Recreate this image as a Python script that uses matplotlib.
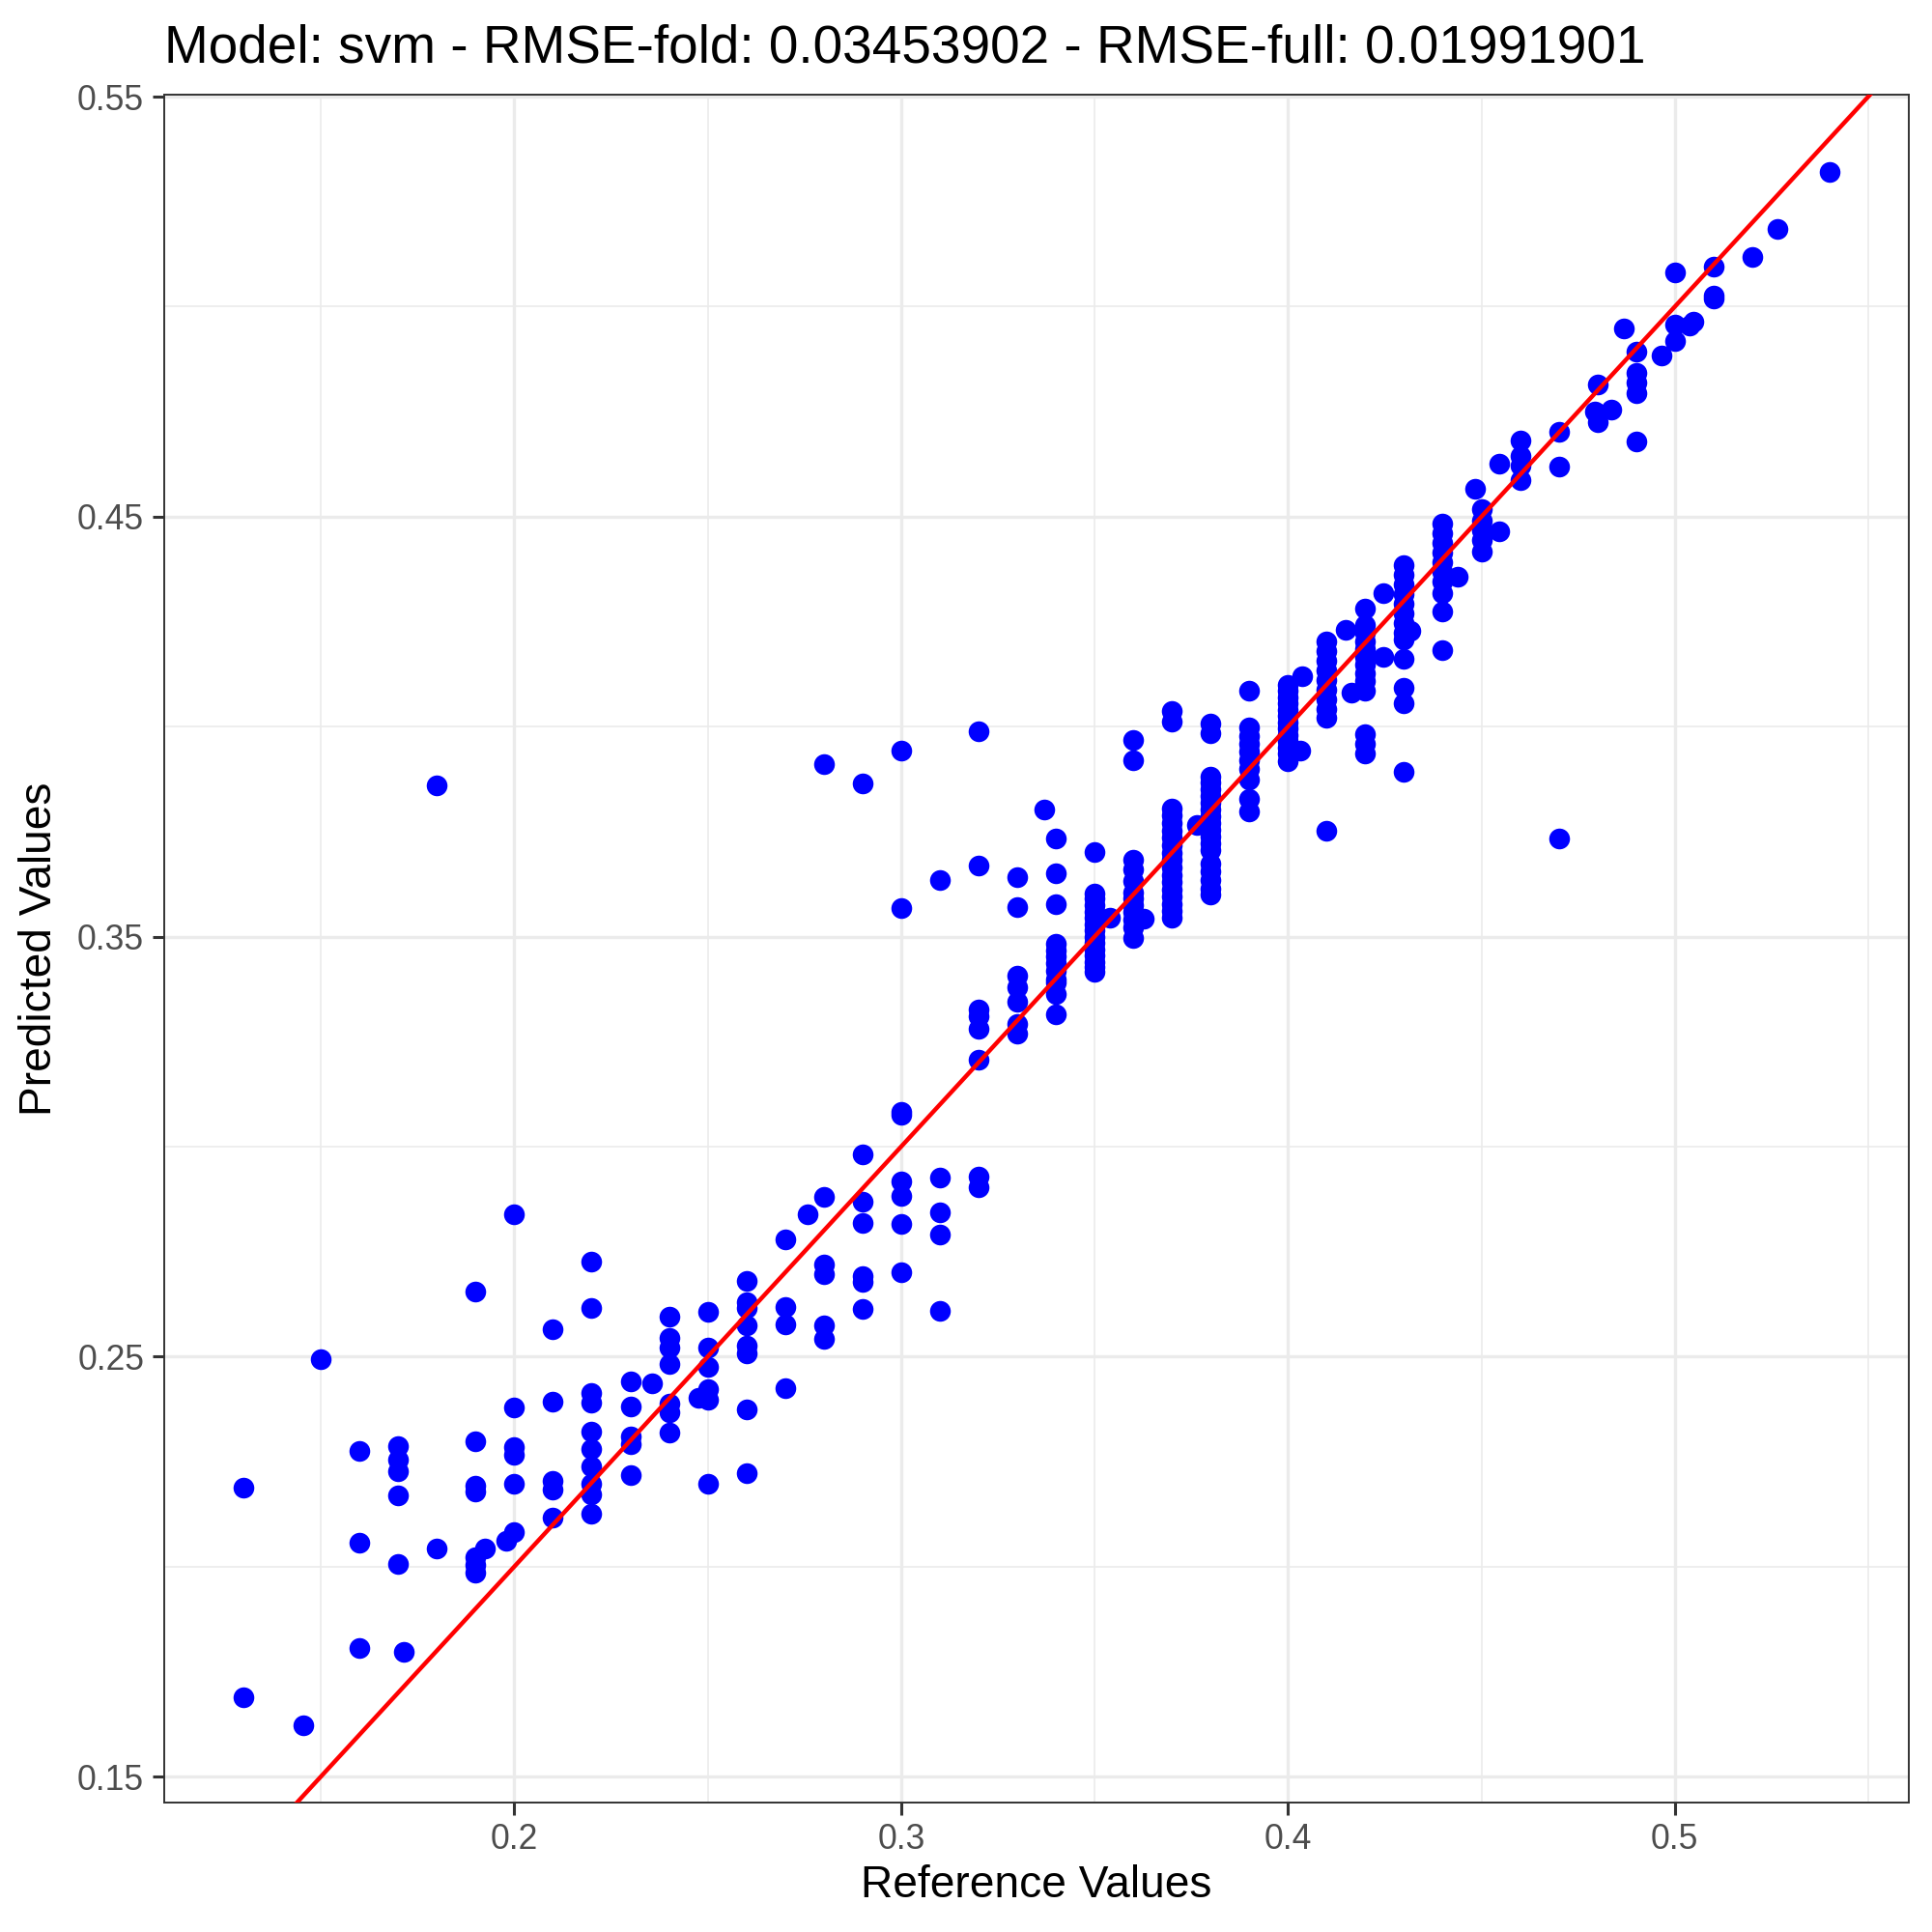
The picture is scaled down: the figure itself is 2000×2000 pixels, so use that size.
import matplotlib
matplotlib.use("Agg")
import matplotlib.pyplot as plt
import numpy as np

plt.rcParams['font.family'] = ['Liberation Sans', 'DejaVu Sans']

title = "Model: svm - RMSE-fold: 0.03453902 - RMSE-full: 0.01991901"

# reference value of each column of points, and the predicted values in that column
ref_groups = [0.13, 0.1454, 0.15, 0.16, 0.17, 0.1715, 0.18, 0.19, 0.1925, 0.1978,
              0.20, 0.21, 0.22, 0.23, 0.2355, 0.24, 0.2475, 0.25, 0.26, 0.27,
              0.2758, 0.28, 0.29, 0.30, 0.31, 0.32, 0.33, 0.337, 0.34, 0.35,
              0.354, 0.36, 0.3627, 0.37, 0.3765, 0.38, 0.39, 0.40, 0.4031, 0.4037,
              0.41, 0.4149, 0.4163, 0.42, 0.4247, 0.43, 0.4317, 0.44, 0.4438, 0.45,
              0.4483, 0.4545, 0.4547, 0.46, 0.47, 0.48, 0.4794, 0.4836, 0.4869, 0.49,
              0.4966, 0.50, 0.5037, 0.5047, 0.51, 0.52, 0.5266, 0.54]

pred_groups = [
    [0.2188, 0.1689],
    [0.1623],
    [0.2494],
    [0.2275, 0.2056, 0.1807],
    [0.2288, 0.2255, 0.2228, 0.2169, 0.2006],
    [0.1798],
    [0.2044, 0.3860],
    [0.2656, 0.2299, 0.2193, 0.2178, 0.2023, 0.2004, 0.1985],
    [0.2044],
    [0.2061],
    [0.2840, 0.2380, 0.2285, 0.2267, 0.2198, 0.2083],
    [0.2565, 0.2393, 0.2203, 0.2183, 0.2117],
    [0.2727, 0.2615, 0.2413, 0.2390, 0.2322, 0.2281, 0.2238, 0.2198, 0.2173, 0.2127],
    [0.2442, 0.2381, 0.2311, 0.2291, 0.2219],
    [0.2436],
    [0.2596, 0.2545, 0.2521, 0.2482, 0.2387, 0.2367, 0.2318],
    [0.2401],
    [0.2607, 0.2521, 0.2475, 0.2422, 0.2397, 0.2197],
    [0.2680, 0.2630, 0.2615, 0.2574, 0.2527, 0.2508, 0.2375, 0.2222],
    [0.2780, 0.2617, 0.2577, 0.2426],
    [0.2840],
    [0.2881, 0.2719, 0.2696, 0.2574, 0.2542, 0.3911],
    [0.2982, 0.2870, 0.2818, 0.2692, 0.2678, 0.2613, 0.3864],
    [0.3083, 0.3075, 0.2918, 0.2882, 0.2816, 0.2701, 0.3943, 0.3568],
    [0.2926, 0.2844, 0.2791, 0.2610, 0.3635],
    [0.3990, 0.3669, 0.3326, 0.3310, 0.3280, 0.3207, 0.2929, 0.2903],
    [0.3641, 0.3571, 0.3406, 0.3379, 0.3346, 0.3291, 0.3270],
    [0.3803],
    [0.3733, 0.3652, 0.3578, 0.3483, 0.3468, 0.3452, 0.3437, 0.3418, 0.3399, 0.3391,
     0.3364, 0.3316],
    [0.3702, 0.3603, 0.3590, 0.3575, 0.3560, 0.3545, 0.3530, 0.3515, 0.3500, 0.3485,
     0.3470, 0.3455, 0.3440, 0.3428, 0.3416],
    [0.3545],
    [0.3969, 0.3919, 0.3684, 0.3660, 0.3633, 0.3606, 0.3590, 0.3575, 0.3560, 0.3541,
     0.3522, 0.3497],
    [0.3542],
    [0.4038, 0.4012, 0.3806, 0.3788, 0.3770, 0.3752, 0.3735, 0.3717, 0.3700, 0.3682,
     0.3665, 0.3647, 0.3630, 0.3612, 0.3595, 0.3578, 0.3562, 0.3546],
    [0.3767],
    [0.4008, 0.3985, 0.3882, 0.3866, 0.3850, 0.3834, 0.3818, 0.3802, 0.3786, 0.3770,
     0.3754, 0.3738, 0.3722, 0.3706, 0.3675, 0.3655, 0.3635, 0.3615, 0.3600],
    [0.4086, 0.3998, 0.3978, 0.3959, 0.3940, 0.3920, 0.3900, 0.3875, 0.3828, 0.3797],
    [0.4100, 0.4085, 0.4070, 0.4055, 0.4040, 0.4025, 0.4010, 0.3995, 0.3980, 0.3965,
     0.3950, 0.3935, 0.3918],
    [0.3943],
    [0.4119],
    [0.4204, 0.4181, 0.4158, 0.4135, 0.4112, 0.4089, 0.4066, 0.4043, 0.4021, 0.3752],
    [0.4231],
    [0.4082],
    [0.4282, 0.4242, 0.4223, 0.4204, 0.4185, 0.4166, 0.4147, 0.4128, 0.4108, 0.4086,
     0.3982, 0.3959, 0.3936],
    [0.4317, 0.4167],
    [0.4384, 0.4361, 0.4338, 0.4315, 0.4293, 0.4270, 0.4246, 0.4223, 0.4208, 0.4162,
     0.4093, 0.4055, 0.3892],
    [0.4229],
    [0.4483, 0.4460, 0.4437, 0.4414, 0.4391, 0.4369, 0.4346, 0.4319, 0.4275, 0.4183],
    [0.4357],
    [0.4518, 0.4491, 0.4468, 0.4445, 0.4418],
    [0.4567],
    [0.4626],
    [0.4466],
    [0.4682, 0.4644, 0.4621, 0.4586],
    [0.4703, 0.4619, 0.3734],
    [0.4814, 0.4745, 0.4724],
    [0.4751],
    [0.4755],
    [0.4949],
    [0.4893, 0.4843, 0.4820, 0.4793, 0.4678],
    [0.4883],
    [0.5082, 0.4958, 0.4919],
    [0.4954],
    [0.4965],
    [0.5096, 0.5027, 0.5019],
    [0.5119],
    [0.5186],
    [0.5320],
]

x_major = [0.2, 0.3, 0.4, 0.5]
x_minor = [0.15, 0.25, 0.35, 0.45, 0.55]
y_major = [0.15, 0.25, 0.35, 0.45, 0.55]
y_minor = [0.20, 0.30, 0.40, 0.50]

ref = []
pred = []
for xv, ys in zip(ref_groups, pred_groups):
    for yv in ys:
        ref.append(xv)
        pred.append(yv)
ref = np.array(ref)
pred = np.array(pred)

fig = plt.figure(figsize=(10, 10), dpi=200)
ax = fig.add_axes([0.085, 0.067, 0.903, 0.884])

# ggplot-like expansion of 5% on each side
xr = ref.max() - ref.min()
yr = pred.max() - pred.min()
xlim = (ref.min() - 0.05 * xr, ref.max() + 0.05 * xr)
ylim = (pred.min() - 0.05 * yr, pred.max() + 0.05 * yr)

for v in x_minor:
    ax.axvline(v, color='#EBEBEB', lw=0.6, zorder=0)
for v in y_minor:
    ax.axhline(v, color='#EBEBEB', lw=0.6, zorder=0)
for v in x_major:
    ax.axvline(v, color='#EBEBEB', lw=1.2, zorder=0)
for v in y_major:
    ax.axhline(v, color='#EBEBEB', lw=1.2, zorder=0)

ax.scatter(ref, pred, s=60, color='#0000FF', linewidths=0, zorder=2)
ax.axline((0.2, 0.2), slope=1, color='#FF0000', lw=1.6, zorder=3)

ax.set_xlim(xlim)
ax.set_ylim(ylim)
ax.set_xticks(x_major)
ax.set_yticks(y_major)
ax.set_xticklabels([f"{v:g}" for v in x_major])
ax.set_yticklabels([f"{v:.2f}" for v in y_major])
ax.tick_params(axis='both', length=4.5, width=1.1, color='#333333',
               labelcolor='#4D4D4D', labelsize=12.8, pad=3)

for sp in ax.spines.values():
    sp.set_color('#333333')
    sp.set_linewidth(0.7)

ax.set_xlabel("Reference Values", fontsize=16.6, color='black', labelpad=3)
ax.set_ylabel("Predicted Values", fontsize=16.6, color='black', labelpad=6)
ax.set_title(title, fontsize=19.8, loc='left', pad=12, color='black')

fig.savefig("out.png", dpi=200)
